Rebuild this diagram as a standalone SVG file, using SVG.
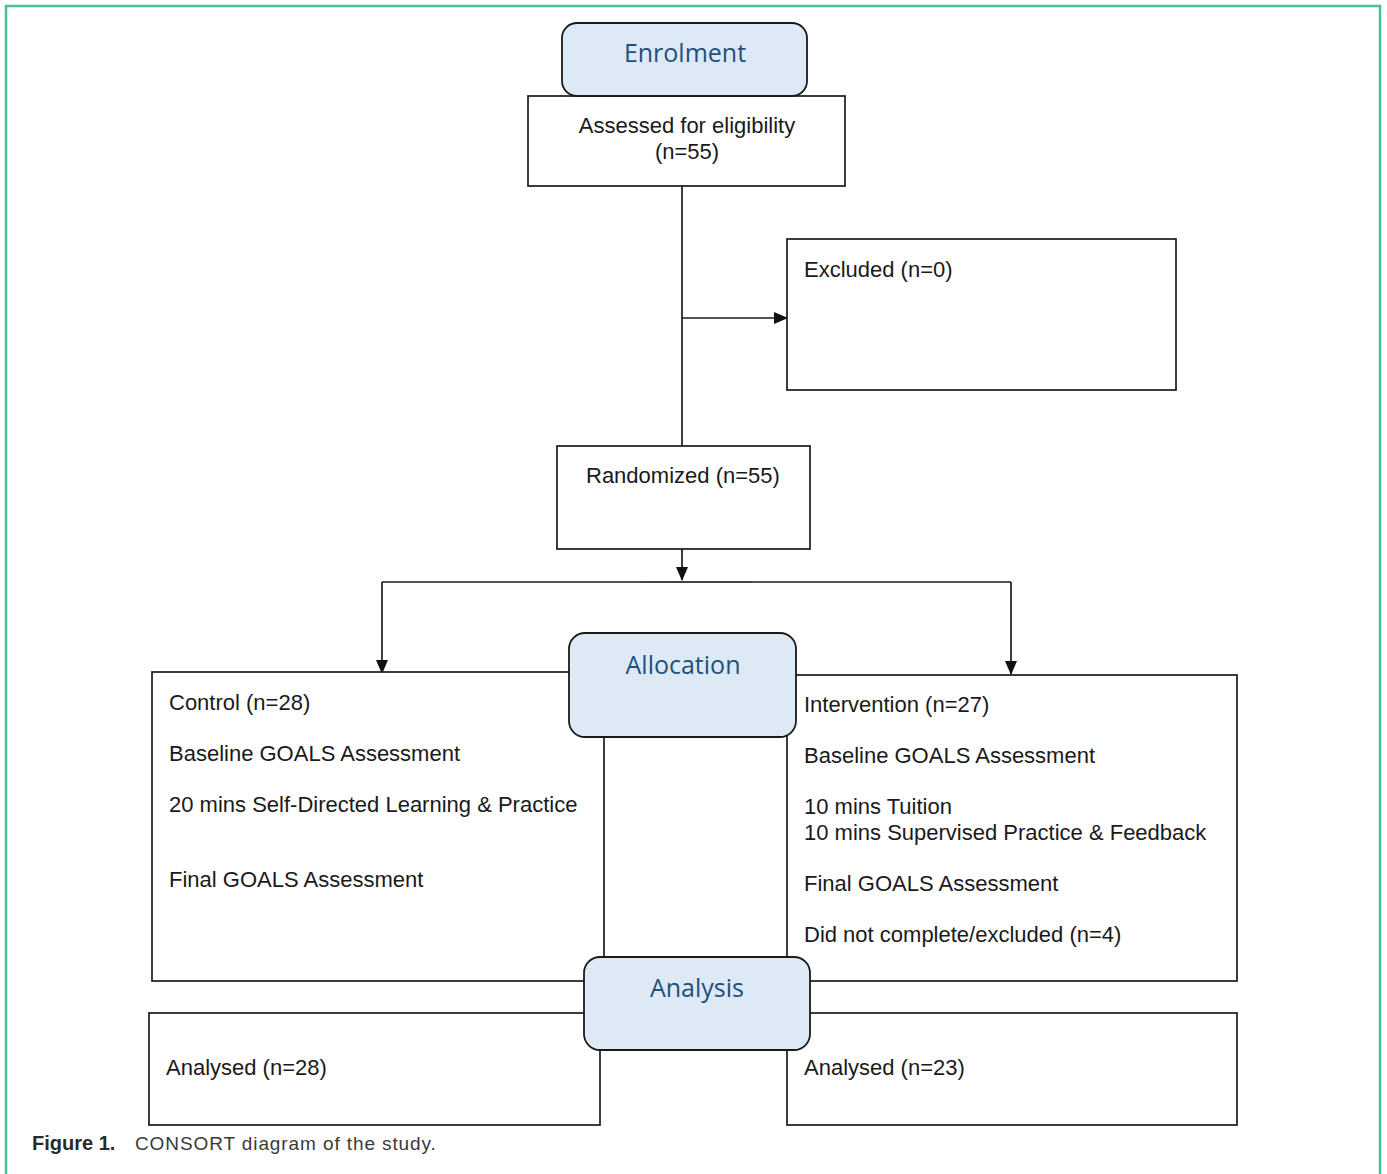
<svg xmlns="http://www.w3.org/2000/svg" width="1387" height="1174" viewBox="0 0 1387 1174">
<style>
.box{fill:#ffffff;stroke:#1a1a1a;stroke-width:1.7}
.hdr{fill:#dde9f5;stroke:#1a1a1a;stroke-width:1.8}
.ln{fill:none;stroke:#1a1a1a;stroke-width:1.7}
.t{font-family:"Liberation Sans",Arial,sans-serif;font-size:22px;fill:#1a1a1a}
.h{font-family:"Open Sans","Noto Sans",sans-serif;font-size:25px;fill:#22507f;text-anchor:middle}
.cap{font-family:"Liberation Sans",Arial,sans-serif;font-size:19px;fill:#3a3a3a}
</style>
<defs>
<marker id="arr" markerWidth="14" markerHeight="12" refX="13" refY="6" orient="auto" markerUnits="userSpaceOnUse">
<path d="M0,0 L14,6 L0,12 Z" fill="#111"/>
</marker>
</defs>
<rect width="1387" height="1174" fill="#ffffff"/>
<path d="M6,1174 V6 H1380 V1174" fill="none" stroke="#4cc097" stroke-width="2.5"/>

<g id="connectors">
<line class="ln" x1="682" y1="184" x2="682" y2="446"/>
<line class="ln" x1="682" y1="318" x2="787" y2="318" marker-end="url(#arr)"/>
<line class="ln" x1="682" y1="549" x2="682" y2="580" marker-end="url(#arr)"/>
<polyline class="ln" points="382,582 1011,582"/>
<line x1="641" y1="582" x2="752" y2="582" stroke="#444" stroke-width="2.2"/>
<line class="ln" x1="382" y1="582" x2="382" y2="673" marker-end="url(#arr)"/>
<line class="ln" x1="1011" y1="582" x2="1011" y2="674" marker-end="url(#arr)"/>
</g>

<g id="assessed">
<rect class="box" x="528" y="96" width="317" height="90"/>
<text class="t" x="687" y="133" text-anchor="middle">Assessed for eligibility</text>
<text class="t" x="687" y="159" text-anchor="middle">(n=55)</text>
</g>
<g id="enrolment">
<rect class="hdr" x="562" y="23" width="245" height="73" rx="15"/>
<text class="h" x="685" y="62">Enrolment</text>
</g>

<g id="excluded">
<rect class="box" x="787" y="239" width="389" height="151"/>
<text class="t" x="804" y="277">Excluded (n=0)</text>
</g>

<g id="randomized">
<rect class="box" x="557" y="446" width="253" height="103"/>
<text class="t" x="586" y="483">Randomized (n=55)</text>
</g>

<g id="control">
<rect class="box" x="152" y="672" width="452" height="309"/>
<text class="t" x="169" y="710">Control (n=28)</text>
<text class="t" x="169" y="761">Baseline GOALS Assessment</text>
<text class="t" x="169" y="812">20 mins Self-Directed Learning &amp; Practice</text>
<text class="t" x="169" y="887">Final GOALS Assessment</text>
</g>

<g id="intervention">
<rect class="box" x="787" y="675" width="450" height="306"/>
<text class="t" x="804" y="712">Intervention (n=27)</text>
<text class="t" x="804" y="763">Baseline GOALS Assessment</text>
<text class="t" x="804" y="814">10 mins Tuition</text>
<text class="t" x="804" y="840">10 mins Supervised Practice &amp; Feedback</text>
<text class="t" x="804" y="891">Final GOALS Assessment</text>
<text class="t" x="804" y="942">Did not complete/excluded (n=4)</text>
</g>

<g id="allocation">
<rect class="hdr" x="569" y="633" width="227" height="104" rx="16"/>
<text class="h" x="683" y="674">Allocation</text>
</g>

<g id="analysed-control">
<rect class="box" x="149" y="1013" width="451" height="112"/>
<text class="t" x="166" y="1075">Analysed (n=28)</text>
</g>

<g id="analysed-intervention">
<rect class="box" x="787" y="1013" width="450" height="112"/>
<text class="t" x="804" y="1075">Analysed (n=23)</text>
</g>

<g id="analysis">
<rect class="hdr" x="584" y="957" width="226" height="93" rx="16"/>
<text class="h" x="697" y="997">Analysis</text>
</g>

<g id="caption">
<text class="cap" x="32" y="1150"><tspan font-weight="bold" fill="#2a2a2a" font-size="20">Figure 1.</tspan><tspan x="135" letter-spacing="0.9">CONSORT diagram of the study.</tspan></text>
</g>
</svg>
